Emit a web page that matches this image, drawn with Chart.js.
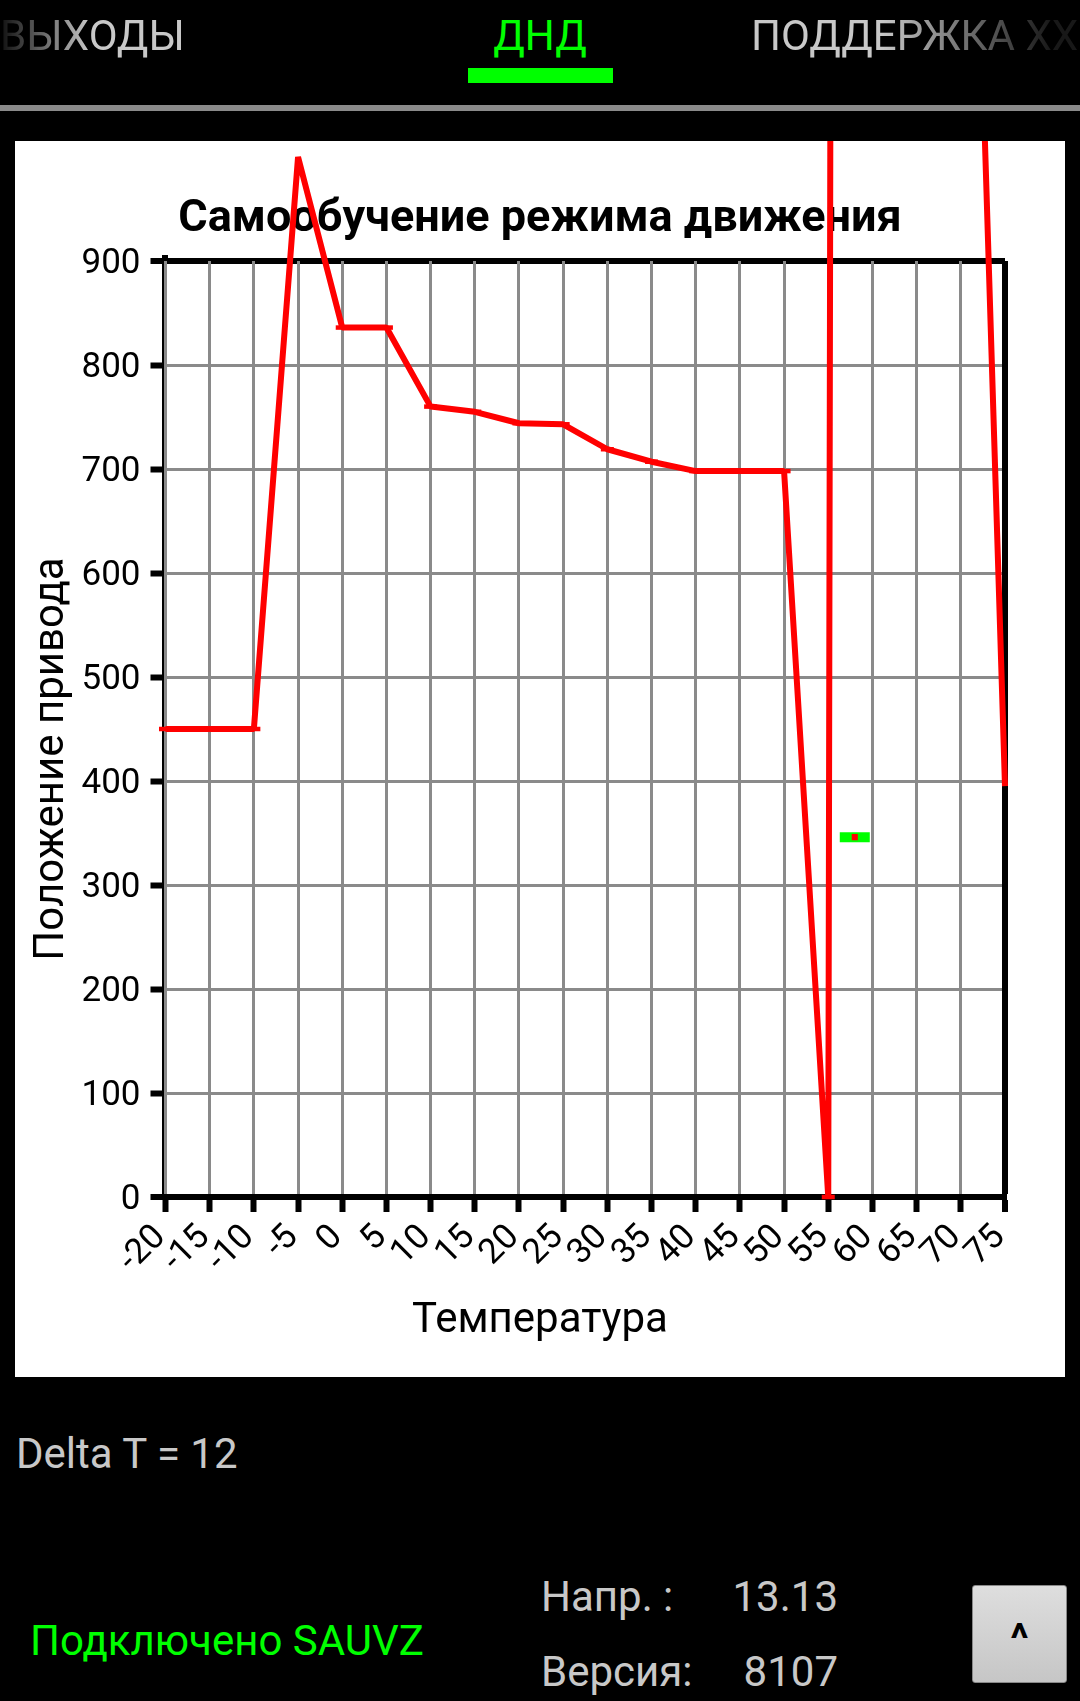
<!DOCTYPE html>
<html lang="ru">
<head>
<meta charset="utf-8">
<title>Самообучение режима движения</title>
<script src="https://cdn.jsdelivr.net/npm/chart.js@4"></script>
<style>
    html, body { margin: 0; padding: 0; background: #000; }
    body { position: relative; width: 1080px; height: 1701px; overflow: hidden; font-family: Roboto, sans-serif; color: #c8c8c8; }
    .txt { position: absolute; white-space: nowrap; line-height: 1.172; font-size: 42px; }
    #tab-left { left: 0; width: 184px; top: 11px; text-align: right; -webkit-mask-image: linear-gradient(to right, rgba(0,0,0,.08) 0, #000 90px); mask-image: linear-gradient(to right, rgba(0,0,0,.08) 0, #000 90px); }
    #tab-mid { left: 440px; width: 200px; top: 11px; text-align: center; color: #0f0; }
    #tab-right { left: 751px; width: 329px; top: 11px; overflow: hidden; -webkit-mask-image: linear-gradient(to right, #000 130px, rgba(0,0,0,.12) 300px); mask-image: linear-gradient(to right, #000 130px, rgba(0,0,0,.12) 300px); }
    #tab-mark { position: absolute; left: 468px; top: 68px; width: 145px; height: 15px; background: #0f0; }
    #tab-line { position: absolute; left: 0; top: 105px; width: 1080px; height: 6px; background: #8a8a8a; }
    #panel { position: absolute; left: 15px; top: 141px; width: 1050px; height: 1236px; background: #fff; }
    #delta { left: 16px; top: 1429px; }
    #status { left: 30px; top: 1616px; color: #0f0; }
    #volt-l { left: 541px; top: 1572px; }
    #volt-v { right: 242px; top: 1572px; }
    #ver-l { left: 541px; top: 1647px; }
    #ver-v { right: 242px; top: 1647px; }
    #up { position: absolute; left: 972px; top: 1585px; width: 95px; height: 98px; box-sizing: border-box; border: 1px solid #888; border-radius: 3px; background: linear-gradient(#dedede, #c6c6c6); color: #000; font-size: 42px; font-weight: 700; text-align: center; line-height: 106px; }
</style>
</head>
<body>
<div class="txt" id="tab-left">ВЫХОДЫ</div>
<div class="txt" id="tab-mid">ДНД</div>
<div class="txt" id="tab-right">ПОДДЕРЖКА ХХ</div>
<div id="tab-mark"></div>
<div id="tab-line"></div>
<div id="panel"><canvas id="chart" width="1050" height="1236"></canvas></div>
<div class="txt" id="delta">Delta T = 12</div>
<div class="txt" id="status">Подключено SAUVZ</div>
<div class="txt" id="volt-l">Напр. :</div>
<div class="txt" id="volt-v">13.13</div>
<div class="txt" id="ver-l">Версия:</div>
<div class="txt" id="ver-v">8107</div>
<div id="up">^</div>

<script>
// данные кривой (60-70 уходят за верх экрана)
const temps = [-20, -15, -10, -5, 0, 5, 10, 15, 20, 25, 30, 35, 40, 45, 50, 55, 60, 65, 70, 75];
const positions = [450, 450, 450, 1000, 836, 836, 760, 755, 744, 743, 719, 707, 698, 698, 698, 0, 22000, 22000, 1760, 395];
const currentTemp = [58];
const currentPos = [346];

const chartTitle = 'Самообучение режима движения';
const xTitle = 'Температура';
const yTitle = 'Положение привода';

const GRID = '#8a8a8a';
const RED = '#ff0000';
const GREEN = '#00ff00';

// подпись оси Y стоит по центру всего холста, а не области графика
const yTitlePlugin = {
    id: 'yTitle',
    afterDraw(chart) {
        const ctx = chart.ctx;
        ctx.save();
        ctx.translate(37, chart.height / 2);
        ctx.rotate(-Math.PI / 2);
        ctx.font = '42px Roboto';
        ctx.fillStyle = '#000';
        ctx.textAlign = 'center';
        ctx.textBaseline = 'middle';
        ctx.fillText(yTitle, 0, 0);
        ctx.restore();
    }
};

// ось Y: чёрная полоса левее серой линии и выступ над верхней линией
const yAxisPlugin = {
    id: 'yAxisLine',
    beforeDatasetsDraw(chart) {
        const { ctx, scales, chartArea } = chart;
        const px = scales.x.getPixelForValue(temps[0]);
        ctx.save();
        ctx.fillStyle = '#000';
        ctx.fillRect(px - 3.5, chartArea.top, 2, chartArea.bottom - chartArea.top);
        ctx.fillRect(px - 3.5, chartArea.top - 6, 6, 6);
        ctx.restore();
    }
};

new Chart(document.getElementById('chart'), {
    type: 'line',
    data: {
        datasets: [
            {
                data: currentTemp.map((t, i) => ({ x: t, y: currentPos[i] })),
                pointStyle: 'rect',
                pointRadius: 4.3,
                pointBorderWidth: 0,
                pointBackgroundColor: RED,
                showLine: false
            },
            {
                data: currentTemp.map((t, i) => ({ x: t, y: currentPos[i] })),
                pointStyle: 'line',
                pointRadius: 15,
                pointBorderWidth: 10,
                pointBorderColor: GREEN,
                showLine: false
            },
            {
                data: temps.map((t, i) => ({ x: t, y: positions[i] })),
                borderColor: RED,
                borderWidth: 6,
                borderJoinStyle: 'bevel',
                tension: 0,
                clip: false,
                pointStyle: 'line',
                // у последней точки чёрточки нет
                pointRadius: c => (c.dataIndex === temps.length - 1 ? 0 : 6.5),
                pointBorderWidth: 4.5,
                pointBorderColor: RED
            }
        ]
    },
    options: {
        responsive: false,
        animation: false,
        devicePixelRatio: 1,
        // одинаковые поля слева и справа, чтобы заголовки были по центру холста
        layout: { padding: { left: 60, right: 60, top: 0, bottom: 0 } },
        plugins: {
            legend: { display: false },
            tooltip: { enabled: false },
            title: {
                display: true,
                text: chartTitle,
                color: '#000',
                font: { family: 'Roboto', size: 45, weight: 'bold', lineHeight: 1 },
                padding: { top: 56, bottom: 19 }
            },
            subtitle: {
                display: true,
                position: 'bottom',
                text: xTitle,
                color: '#000',
                font: { family: 'Roboto', size: 42, weight: 'normal', lineHeight: 1 },
                padding: { top: 18, bottom: 35 }
            }
        },
        scales: {
            x: {
                type: 'linear',
                min: -20,
                max: 75,
                afterFit(scale) { scale.height = 85; },
                afterBuildTicks(scale) { scale.ticks = temps.map(t => ({ value: t })); },
                ticks: {
                    color: '#000',
                    font: { family: 'Roboto', size: 35 },
                    autoSkip: false,
                    minRotation: 45,
                    maxRotation: 45,
                    padding: 5,
                    labelOffset: -5
                },
                grid: {
                    color: c => (c.tick && c.tick.value === 75) ? '#000' : GRID,
                    lineWidth: c => (c.tick && c.tick.value === 75) ? 6 : 3,
                    tickColor: '#000',
                    tickWidth: 6,
                    tickLength: 15,
                    z: -1
                },
                border: { color: '#000', width: 6, z: -1 }
            },
            y: {
                min: 0,
                max: 900,
                afterFit(scale) { scale.width = 90.5; },
                ticks: {
                    color: '#000',
                    // пустая первая строка сдвигает подпись на 3px вниз
                    font: { family: 'Roboto', size: 35, lineHeight: 6 / 35 },
                    stepSize: 100,
                    padding: 10,
                    callback: v => ['', String(v)]
                },
                grid: {
                    color: c => (c.tick && (c.tick.value === 0 || c.tick.value === 900)) ? '#000' : GRID,
                    lineWidth: c => (c.tick && (c.tick.value === 0 || c.tick.value === 900)) ? 6 : 3,
                    tickColor: '#000',
                    tickWidth: 6,
                    tickLength: 15,
                    z: -3
                },
                border: { display: false }
            }
        }
    },
    plugins: [yTitlePlugin, yAxisPlugin]
});
</script>
</body>
</html>
